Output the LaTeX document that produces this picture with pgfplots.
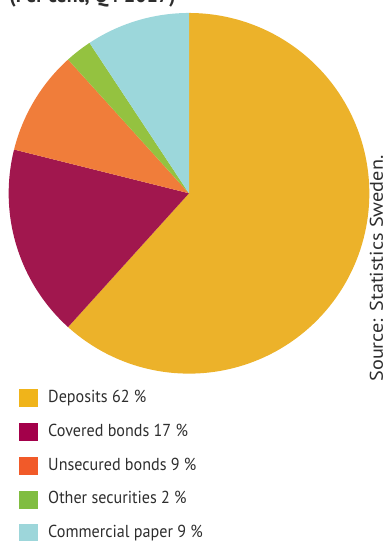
\documentclass[border=0pt]{standalone}
\usepackage{fontspec}
\setmainfont{PT Sans}[FakeStretch=0.93]
\newfontfamily\srcfont{PT Sans}[FakeStretch=1.1]
\usepackage{pgfplots}
\pgfplotsset{compat=1.18}
\definecolor{cDep}{HTML}{ECB22A}
\definecolor{cCov}{HTML}{A1174E}
\definecolor{cUns}{HTML}{F07D3A}
\definecolor{cOth}{HTML}{94C240}
\definecolor{cCom}{HTML}{9CD7DB}
\definecolor{lDep}{HTML}{F0B41A}
\definecolor{lCov}{HTML}{A3004A}
\definecolor{lUns}{HTML}{F15A29}
\definecolor{lOth}{HTML}{80BD41}
\definecolor{lCom}{HTML}{9DD6DA}
\definecolor{txt}{HTML}{2E2E2E}
% shares (per cent)
\def\sDep{61.7}
\def\sCov{17.2}
\def\sUns{9.4}
\def\sOth{2.4}
\def\sCom{9.3}
\begin{document}
\begin{tikzpicture}[x=0.75pt,y=-0.75pt]
\useasboundingbox (0,0) rectangle (384,541);
\clip (0,0) rectangle (384,541);
\coordinate (pc) at (189,193.3);
\pgfmathsetmacro{\aA}{90-3.6*\sDep}
\pgfmathsetmacro{\aB}{\aA-3.6*\sCov}
\pgfmathsetmacro{\aC}{\aB-3.6*\sUns}
\pgfmathsetmacro{\aD}{\aC-3.6*\sOth}
\pgfmathsetmacro{\aE}{\aD-3.6*\sCom}
\begin{axis}[
  at={(pc)}, anchor=center,
  width=270.5pt, height=270.5pt, scale only axis,
  xmin=-1, xmax=1, ymin=-1, ymax=1,
  hide axis, clip=false,
  legend style={at={(0.0286,-0.0427)}, anchor=north west, draw=none, fill=none,
    inner sep=0pt, font=\fontsize{13}{15}\selectfont, text=txt,
    row sep=11.8pt,
    nodes={inner sep=0pt, text height=9pt, text depth=2.5pt},
    /tikz/every odd column/.style={column sep=7.5pt}},
  legend image code/.code={\fill[#1] (0pt,-6.75pt) rectangle (14.25pt,6.75pt);},
  legend cell align=left,
]
\addplot[fill=cDep, draw=none, domain=\aA:90, samples=120, forget plot] ({cos(x)},{sin(x)}) -- (axis cs:0,0) -- cycle;
\addplot[fill=cCov, draw=none, domain=\aB:\aA, samples=60, forget plot] ({cos(x)},{sin(x)}) -- (axis cs:0,0) -- cycle;
\addplot[fill=cUns, draw=none, domain=\aC:\aB, samples=40, forget plot] ({cos(x)},{sin(x)}) -- (axis cs:0,0) -- cycle;
\addplot[fill=cOth, draw=none, domain=\aD:\aC, samples=20, forget plot] ({cos(x)},{sin(x)}) -- (axis cs:0,0) -- cycle;
\addplot[fill=cCom, draw=none, domain=\aE:\aD, samples=40, forget plot] ({cos(x)},{sin(x)}) -- (axis cs:0,0) -- cycle;
\addlegendimage{fill=lDep, draw=none}
\addlegendentry{Deposits 62 \%}
\addlegendimage{fill=lCov, draw=none}
\addlegendentry{Covered bonds 17 \%}
\addlegendimage{fill=lUns, draw=none}
\addlegendentry{Unsecured bonds 9 \%}
\addlegendimage{fill=lOth, draw=none}
\addlegendentry{Other securities 2 \%}
\addlegendimage{fill=lCom, draw=none}
\addlegendentry{Commercial paper 9 \%}
\end{axis}
\node[anchor=base west, inner sep=0pt, font=\bfseries\fontsize{16}{18}\selectfont, text=txt] at (9,3) {(Per cent, Q4 2017)};
\node[rotate=90, inner sep=0pt, font=\srcfont\fontsize{13.8}{15}\selectfont, text=txt] at (376.5,268.5) {Source: Statistics Sweden.};
\end{tikzpicture}
\end{document}
